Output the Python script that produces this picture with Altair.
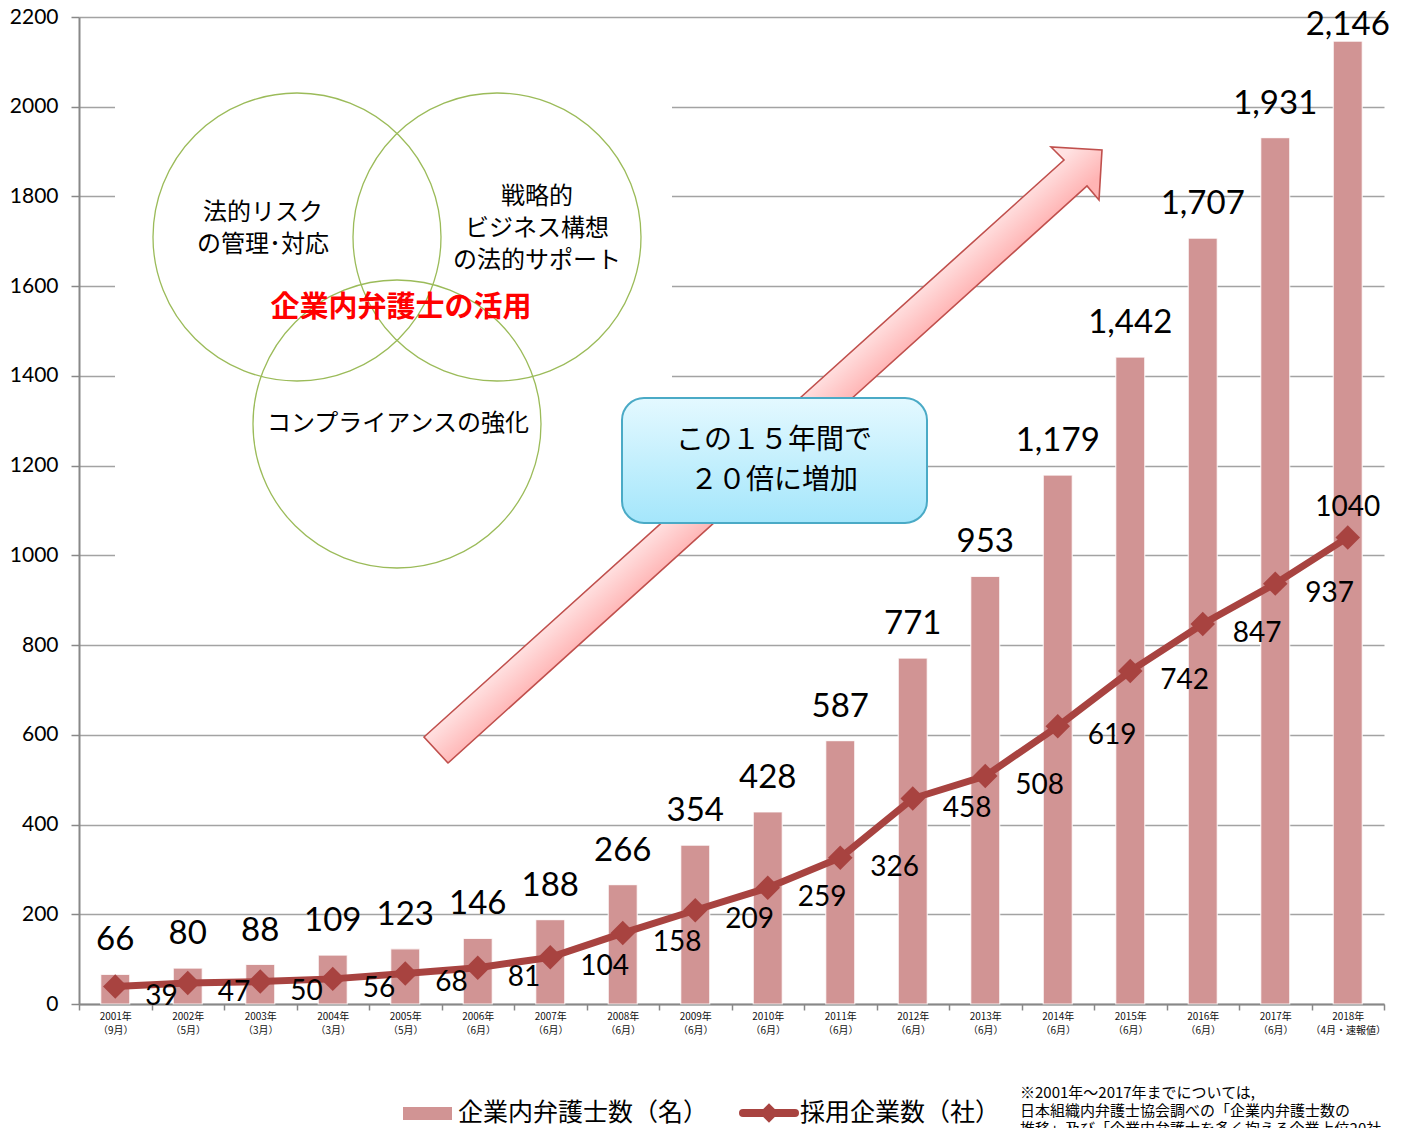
import altair as alt
import pandas as pd

years = ["2001年", "2002年", "2003年", "2004年", "2005年", "2006年", "2007年", "2008年", "2009年",
         "2010年", "2011年", "2012年", "2013年", "2014年", "2015年", "2016年", "2017年", "2018年"]
months = ["（9月）", "（5月）", "（3月）", "（3月）", "（5月）", "（6月）", "（6月）", "（6月）", "（6月）",
          "（6月）", "（6月）", "（6月）", "（6月）", "（6月）", "（6月）", "（6月）", "（6月）", "（4月・速報値）"]
lawyers = [66, 80, 88, 109, 123, 146, 188, 266, 354, 428, 587, 771, 953, 1179, 1442, 1707, 1931, 2146]
companies = [39, 47, 50, 56, 68, 81, 104, 158, 209, 259, 326, 458, 508, 619, 742, 847, 937, 1040]
y_ticks = list(range(0, 2201, 200))

cats = [y + "|" + m for y, m in zip(years, months)]
df = pd.DataFrame({"cat": cats, "lawyers": lawyers, "companies": companies})

BAR = "#d19494"
LINE = "#a84340"
NUM_FONT = "Lato"
JP = "Noto Sans CJK JP"

x_axis = alt.Axis(labelExpr="split(datum.label, '|')", labelAngle=0, labelFont=JP,
                  labelFontSize=10, labelLineHeight=14, labelColor="#111",
                  tickBand="extent", tickSize=6, tickColor="#888", tickWidth=1.5,
                  domainColor="#888", domainWidth=2, labelPadding=1, grid=False, title=None)
y_axis = alt.Axis(values=y_ticks, format="d", grid=True, gridColor="#a3a3a3", gridWidth=1.5,
                  domainColor="#888", domainWidth=2, tickColor="#888", tickSize=8,
                  tickWidth=1.5, labelFont=NUM_FONT, labelFontSize=21, labelColor="black",
                  labelPadding=13, title=None)
xscale = alt.Scale(paddingInner=0, paddingOuter=0)
yscale = alt.Scale(domain=[0, 2200], nice=False)


def X():
    return alt.X("cat:N", sort=cats, title=None, scale=xscale, axis=x_axis)


def Y(field):
    return alt.Y(field, scale=yscale, title=None, axis=y_axis)


base = alt.Chart(df)

bars = base.mark_bar(color=BAR, width=alt.RelativeBandSize(0.4), stroke="white",
                     strokeWidth=1.2, strokeOpacity=0.8).encode(x=X(), y=Y("lawyers:Q"))

bar_labels = base.transform_calculate(ylab="min(datum.lawyers, 2106)").mark_text(
    font=NUM_FONT, fontSize=33, color="black", baseline="middle", dy=-34).encode(
    x=X(), y=Y("ylab:Q"), text=alt.Text("lawyers:Q", format=",d"))

line = base.mark_line(color=LINE, strokeWidth=7).encode(x=X(), y=Y("companies:Q"))
pts = base.mark_point(shape="diamond", filled=True, size=600, opacity=1, color=LINE).encode(
    x=X(), y=Y("companies:Q"))

line_labels = base.transform_filter(alt.datum.cat != cats[-1]).mark_text(
    font=NUM_FONT, fontSize=28, color="black", align="left", baseline="middle", dx=30, dy=10).encode(
    x=X(), y=Y("companies:Q"), text="companies:Q")
last_label = base.transform_filter(alt.datum.cat == cats[-1]).mark_text(
    font=NUM_FONT, fontSize=28, color="black", align="center", baseline="middle", dy=-29).encode(
    x=X(), y=Y("companies:Q"), text="companies:Q")

one = alt.Data(values=[{"k": 1}])


def rect(x, x2, y, y2, **kw):
    return alt.Chart(one).mark_rect(**kw).encode(
        x=alt.value(x), x2=alt.value(x2), y=alt.value(y), y2=alt.value(y2))


def txt(x, y, t, **kw):
    return alt.Chart(one).mark_text(**kw).encode(x=alt.value(x), y=alt.value(y), text=alt.value(t))


def circle(cx, cy):
    return alt.Chart(one).mark_point(shape="circle", size=288 * 288, filled=False, opacity=1,
                                     stroke="#9bbb59", strokeWidth=1.3).encode(
        x=alt.value(cx), y=alt.value(cy))


white_box = rect(36, 593, 71, 558, fill="white")
circles = [circle(218, 220), circle(418, 220), circle(318, 407)]

venn_texts = [
    txt(184, 196, ["法的リスク", "の管理･対応"], font=JP, fontSize=24, lineHeight=32, color="black",
        align="center", baseline="middle"),
    txt(458, 180, ["戦略的", "ビジネス構想", "の法的サポート"], font=JP, fontSize=24, lineHeight=32,
        color="black", align="center", baseline="middle"),
    txt(322, 291, "企業内弁護士の活用", font=JP, fontSize=29, fontWeight="bold", color="#ff0000",
        align="center", baseline="middle"),
    txt(319, 407, "コンプライアンスの強化", font=JP, fontSize=24, color="black",
        align="center", baseline="middle"),
]

arrow_grad = alt.LinearGradient(
    gradient="linear", x1=0, y1=0, x2=1, y2=1,
    stops=[alt.GradientStop(color="#ffeaea", offset=0),
           alt.GradientStop(color="#ffe2e2", offset=0.478),
           alt.GradientStop(color="#ffb4b4", offset=0.522),
           alt.GradientStop(color="#ffa8a8", offset=1)])
arrow_path = "M345,720 L985,143 L972,130 L1023,133 L1020,183 L1008,169 L369,746 Z"
arrow = alt.Chart(one).mark_point(shape=arrow_path, size=4, filled=True, opacity=1,
                                  fill=arrow_grad, stroke="#c0504d", strokeWidth=1.6).encode(
    x=alt.value(0), y=alt.value(0))

box_grad = alt.LinearGradient(
    gradient="linear", x1=0, y1=0, x2=0, y2=1,
    stops=[alt.GradientStop(color="#e4f9ff", offset=0),
           alt.GradientStop(color="#a4e6fb", offset=1)])
callout = rect(543, 848, 381, 506, fill=box_grad, stroke="#4aaac6", strokeWidth=2, cornerRadius=22)
callout_text = txt(695, 424, ["この１５年間で", "２０倍に増加"], font=JP, fontSize=28, lineHeight=40,
                   color="black", align="center", baseline="middle")

leg_rect = rect(324, 373, 1090, 1103, fill=BAR)
leg_text1 = txt(379, 1096, "企業内弁護士数（名）", font=JP, fontSize=25, color="black",
                align="left", baseline="middle")
leg_line = alt.Chart(one).mark_rule(color=LINE, strokeWidth=8, strokeCap="round").encode(
    x=alt.value(664), x2=alt.value(716), y=alt.value(1096))
leg_pt = alt.Chart(one).mark_point(shape="diamond", filled=True, size=380, opacity=1, color=LINE).encode(
    x=alt.value(690), y=alt.value(1096))
leg_text2 = txt(721, 1096, "採用企業数（社）", font=JP, fontSize=25, color="black",
                align="left", baseline="middle")
footnote = txt(941, 1069, ["※2001年～2017年までについては,",
                           "日本組織内弁護士協会調べの「企業内弁護士数の",
                           "推移」及び「企業内弁護士を多く抱える企業上位20社"],
               font=JP, fontSize=15, lineHeight=18, color="black", align="left", baseline="top")

chart = alt.layer(
    bars, white_box, *circles, *venn_texts, arrow, callout, callout_text,
    line, pts, bar_labels, line_labels, last_label,
    leg_rect, leg_text1, leg_line, leg_pt, leg_text2, footnote,
).properties(
    width=1305, height=987,
    autosize=alt.AutoSizeParams(type="none"),
    padding={"left": 71, "top": 9, "right": 5, "bottom": 124},
).configure_view(stroke=None)

chart.save("out.html", embed_options={"renderer": "svg", "actions": False})
